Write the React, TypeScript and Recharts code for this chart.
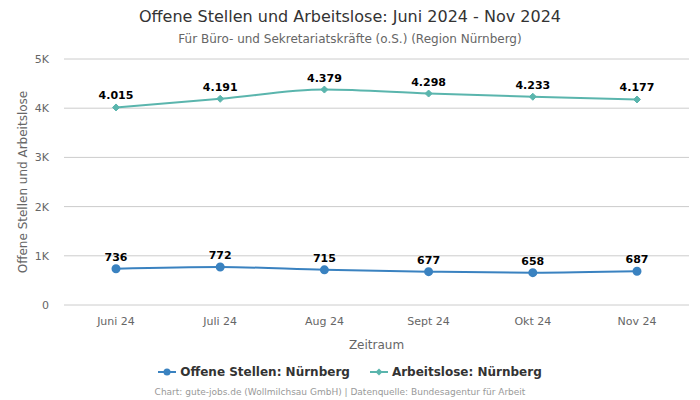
import React from 'react';
import {
  LineChart,
  Line,
  XAxis,
  YAxis,
  CartesianGrid,
  LabelList,
} from 'recharts';

const months = ['Juni 24', 'Juli 24', 'Aug 24', 'Sept 24', 'Okt 24', 'Nov 24'];
const offeneStellen = [736, 772, 715, 677, 658, 687];
const arbeitslose = [4015, 4191, 4379, 4298, 4233, 4177];
const yTicks = [0, 1000, 2000, 3000, 4000, 5000];

const BLUE = '#3a82c0';
const TEAL = '#5ab5ad';
const FONT = '"DejaVu Sans", sans-serif';

const data = months.map((m, i) => ({
  month: m,
  offen: offeneStellen[i],
  arbeitslos: arbeitslose[i],
}));

const fmtNum = (v: any) => Number(v).toLocaleString('de-DE');
const fmtTick = (v: number) => (v === 0 ? '0' : `${v / 1000}K`);

const Diamond = (props: any) => {
  const { cx, cy } = props;
  if (cx == null || cy == null) return null;
  const r = 3.5;
  return (
    <path
      d={`M${cx},${cy - r}L${cx + r},${cy}L${cx},${cy + r}L${cx - r},${cy}Z`}
      fill={TEAL}
      stroke={TEAL}
    />
  );
};

export default function App() {
  return (
    <div
      style={{
        position: 'fixed',
        top: 0,
        left: 0,
        width: 700,
        height: 400,
        fontFamily: FONT,
        background: '#fff',
      }}
    >
      <div
        style={{
          position: 'absolute',
          top: 7,
          width: 700,
          textAlign: 'center',
          fontSize: 16,
          color: '#333',
        }}
      >
        Offene Stellen und Arbeitslose: Juni 2024 - Nov 2024
      </div>
      <div
        style={{
          position: 'absolute',
          top: 32,
          width: 700,
          textAlign: 'center',
          fontSize: 12,
          color: '#666',
        }}
      >
        Für Büro- und Sekretariatskräfte (o.S.) (Region Nürnberg)
      </div>
      <div style={{ position: 'absolute', top: 0, left: 0 }}>
        <LineChart
          width={700}
          height={400}
          data={data}
          margin={{ top: 59, right: 11, bottom: 65, left: 0 }}
        >
          <CartesianGrid vertical={false} stroke="#ccc" />
          <XAxis
            dataKey="month"
            axisLine={false}
            tickLine={false}
            padding={{ left: 52, right: 52 }}
            height={30}
            tick={{ fontSize: 11, fill: '#666', fontFamily: FONT }}
            tickMargin={6}
            label={{
              value: 'Zeitraum',
              position: 'insideBottom',
              offset: -14,
              fontSize: 12,
              fill: '#666',
              fontFamily: FONT,
            }}
          />
          <YAxis
            width={64}
            domain={[0, 5000]}
            ticks={yTicks}
            tickFormatter={fmtTick}
            axisLine={false}
            tickLine={false}
            tickMargin={9}
            tick={{ fontSize: 11, fill: '#666', fontFamily: FONT }}
            label={{
              value: 'Offene Stellen und Arbeitslose',
              angle: -90,
              position: 'insideLeft',
              offset: 23,
              style: { textAnchor: 'middle' },
              fontSize: 12,
              fill: '#666',
              fontFamily: FONT,
            }}
          />
          <Line
            type="monotone"
            dataKey="offen"
            stroke={BLUE}
            strokeWidth={2}
            dot={{ r: 3.5, fill: BLUE, stroke: BLUE }}
            isAnimationActive={false}
          >
            <LabelList
              dataKey="offen"
              position="top"
              offset={8}
              formatter={fmtNum}
              style={{ fontSize: 11, fontWeight: 'bold', fill: '#000', fontFamily: FONT }}
            />
          </Line>
          <Line
            type="monotone"
            dataKey="arbeitslos"
            stroke={TEAL}
            strokeWidth={2}
            dot={<Diamond />}
            isAnimationActive={false}
          >
            <LabelList
              dataKey="arbeitslos"
              position="top"
              offset={8}
              formatter={fmtNum}
              style={{ fontSize: 11, fontWeight: 'bold', fill: '#000', fontFamily: FONT }}
            />
          </Line>
        </LineChart>
      </div>
      <div
        style={{
          position: 'absolute',
          top: 365,
          width: 700,
          display: 'flex',
          justifyContent: 'center',
          gap: 20,
          fontSize: 12,
          fontWeight: 'bold',
          color: '#333',
        }}
      >
        <span style={{ display: 'flex', alignItems: 'center' }}>
          <svg width={18} height={10} style={{ marginRight: 4 }}>
            <line x1={0} y1={5} x2={18} y2={5} stroke={BLUE} strokeWidth={2} />
            <circle cx={9} cy={5} r={3.5} fill={BLUE} />
          </svg>
          Offene Stellen: Nürnberg
        </span>
        <span style={{ display: 'flex', alignItems: 'center' }}>
          <svg width={18} height={10} style={{ marginRight: 4 }}>
            <line x1={0} y1={5} x2={18} y2={5} stroke={TEAL} strokeWidth={2} />
            <path d="M9,1.5L12.5,5L9,8.5L5.5,5Z" fill={TEAL} />
          </svg>
          Arbeitslose: Nürnberg
        </span>
      </div>
      <div
        style={{
          position: 'absolute',
          top: 386,
          left: 0,
          width: 680,
          textAlign: 'center',
          fontSize: 9,
          lineHeight: '12px',
          color: '#999',
        }}
      >
        Chart: gute-jobs.de (Wollmilchsau GmbH) | Datenquelle: Bundesagentur für Arbeit
      </div>
    </div>
  );
}
